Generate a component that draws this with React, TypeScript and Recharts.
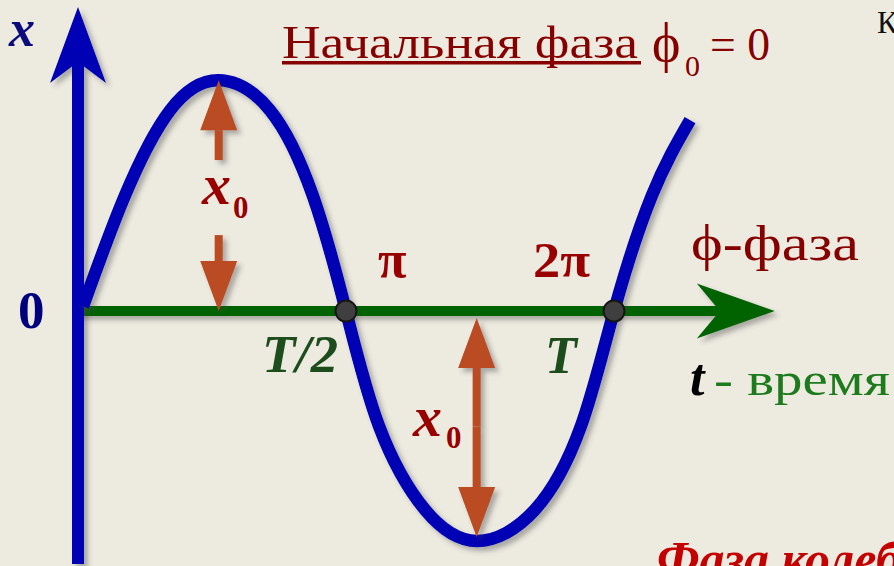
import React from 'react'
import { LineChart, Line, XAxis, YAxis, ReferenceLine, ReferenceDot } from 'recharts'

// time in units where T = 16 (so T/2 = 8), displacement in units of x0
const timeT = [0.15, 1.4, 2.75, 4.18, 5.73, 7.01, 8, 8.99, 10.36, 11.91, 13.64, 15.01, 16, 17.13, 18.27]
const displacement = [0.02, 0.5, 0.87, 1.0, 0.87, 0.5, 0, -0.5, -0.861, -0.996, -0.861, -0.5, 0, 0.5, 0.827]

const zeroCrossings = [8, 16]
const phaseLabels = ['π', '2π']
const timeLabels = ['T/2', 'T']

// amplitude arrows: [t, from, tip]
const amplitudeArrows: Array<[number, number, number]> = [
  [4.2, 0.654, 1.0],
  [4.2, 0.329, 0],
  [11.9, -0.5, -0.03],
  [11.9, -0.5, -0.979],
]

const axisEnds = { tMax: 20.8, xTop: 1.317, xBottom: -1.096 }

const data = timeT.map((t, i) => ({ t, x: displacement[i] }))

const BG = '#EDEBE0'
const BLUE = '#0000B4'
const GREEN = '#016401'
const ORANGE = '#BA4B23'
const DARKRED = '#870000'
const serif = "'Liberation Serif', 'Times New Roman', serif"

const arrowShape = (color: string, shaft: number, headLen: number, headHalf: number, notch: number) => (p: any) => {
  const { x1, y1, x2, y2 } = p
  const len = Math.hypot(x2 - x1, y2 - y1) || 1
  const dx = (x2 - x1) / len
  const dy = (y2 - y1) / len
  const nx = -dy
  const ny = dx
  const bx = x2 - dx * headLen
  const by = y2 - dy * headLen
  const mx = x2 - dx * (headLen - notch)
  const my = y2 - dy * (headLen - notch)
  return (
    <g filter="url(#sh)">
      <line x1={x1} y1={y1} x2={mx} y2={my} stroke={color} strokeWidth={shaft} />
      <polygon
        points={`${x2},${y2} ${bx + nx * headHalf},${by + ny * headHalf} ${mx},${my} ${bx - nx * headHalf},${by - ny * headHalf}`}
        fill={color}
      />
    </g>
  )
}

export default function App() {
  return (
    <div style={{ position: 'absolute', left: 0, top: 0, width: 894, height: 566, background: BG, overflow: 'hidden' }}>
      <svg width={0} height={0} style={{ position: 'absolute' }}>
        <defs>
          <filter id="sh" x="-20%" y="-20%" width="140%" height="140%">
            <feDropShadow dx={4} dy={4} stdDeviation={2.5} floodColor="#444" floodOpacity={0.4} />
          </filter>
        </defs>
      </svg>
      <LineChart width={894} height={566} data={data} margin={{ top: 4, right: 12, bottom: 1, left: 78 }}>
        <XAxis dataKey="t" type="number" domain={[0, 24]} hide />
        <YAxis type="number" domain={[-1.1, 1.33]} allowDataOverflow hide />
        <ReferenceLine
          segment={[{ x: 0, y: 0 }, { x: axisEnds.tMax, y: 0 }]}
          shape={arrowShape(GREEN, 10, 78, 27.5, 23)}
        />
        <ReferenceLine
          segment={[{ x: 0, y: axisEnds.xBottom }, { x: 0, y: axisEnds.xTop }]}
          shape={arrowShape(BLUE, 12, 76, 28, 21)}
        />
        <Line
          type="natural"
          dataKey="x"
          stroke={BLUE}
          strokeWidth={12.5}
          dot={false}
          activeDot={false}
          isAnimationActive={false}
          filter="url(#sh)"
        />
        {zeroCrossings.map((t) => (
          <ReferenceDot key={t} x={t} y={0} r={10.5} fill="#3F3F3F" stroke="#151515" strokeWidth={2} />
        ))}
        {amplitudeArrows.map(([t, from, tip], i) => (
          <ReferenceLine
            key={i}
            segment={[{ x: t, y: from }, { x: t, y: tip }]}
            shape={arrowShape(ORANGE, 8, 50, 18.5, 0)}
          />
        ))}
      </LineChart>

      <svg width={894} height={566} style={{ position: 'absolute', left: 0, top: 0, pointerEvents: 'none' }} fontFamily={serif}>
        <text x={9} y={46} fontSize={52} fontWeight="bold" fontStyle="italic" fill="#0B0B7E">x</text>
        <text x={18} y={328} fontSize={53} fontWeight="bold" fill="#00007F">0</text>

        <text x={282} y={58} fontSize={47} fill={DARKRED} textLength={356} lengthAdjust="spacingAndGlyphs">Начальная фаза</text>
        <rect x={282} y={61} width={359} height={3.5} fill={DARKRED} />
        <text x={652} y={61} fontSize={54} fill={DARKRED}>ϕ</text>
        <text x={685} y={76} fontSize={30} fill={DARKRED}>0</text>
        <text x={710} y={60} fontSize={47} fill={DARKRED} textLength={60} lengthAdjust="spacingAndGlyphs">= 0</text>
        <text x={877} y={33} fontSize={31} fill="#111">К</text>

        <text x={378} y={277} fontSize={52} fontWeight="bold" fill="#990000">{phaseLabels[0]}</text>
        <text x={533} y={277} fontSize={50} fontWeight="bold" fill="#990000" textLength={57} lengthAdjust="spacingAndGlyphs">{phaseLabels[1]}</text>
        <text x={691} y={260} fontSize={50} fill={DARKRED} textLength={168} lengthAdjust="spacingAndGlyphs">ϕ-фаза</text>

        <text x={262} y={372} fontSize={52} fontWeight="bold" fontStyle="italic" fill="#1D4D1D" textLength={76} lengthAdjust="spacingAndGlyphs">{timeLabels[0]}</text>
        <text x={545} y={373} fontSize={52} fontWeight="bold" fontStyle="italic" fill="#1D4D1D">{timeLabels[1]}</text>

        <text x={690} y={395} fontSize={52} fontWeight="bold" fontStyle="italic" fill="#000">t</text>
        <text x={714} y={395} fontSize={46} fill="#1D7A1D" textLength={176} lengthAdjust="spacingAndGlyphs">- время</text>

        <text x={202} y={204} fontSize={58} fontWeight="bold" fontStyle="italic" fill="#990000">x</text>
        <text x={233} y={218} fontSize={31} fontWeight="bold" fill="#990000">0</text>
        <text x={413} y={436} fontSize={58} fontWeight="bold" fontStyle="italic" fill="#990000">x</text>
        <text x={446} y={448} fontSize={31} fontWeight="bold" fill="#990000">0</text>

        <text x={657} y={576} fontSize={50} fontWeight="bold" fontStyle="italic" fill="#C40000">Фаза колебаний</text>
      </svg>
    </div>
  )
}
